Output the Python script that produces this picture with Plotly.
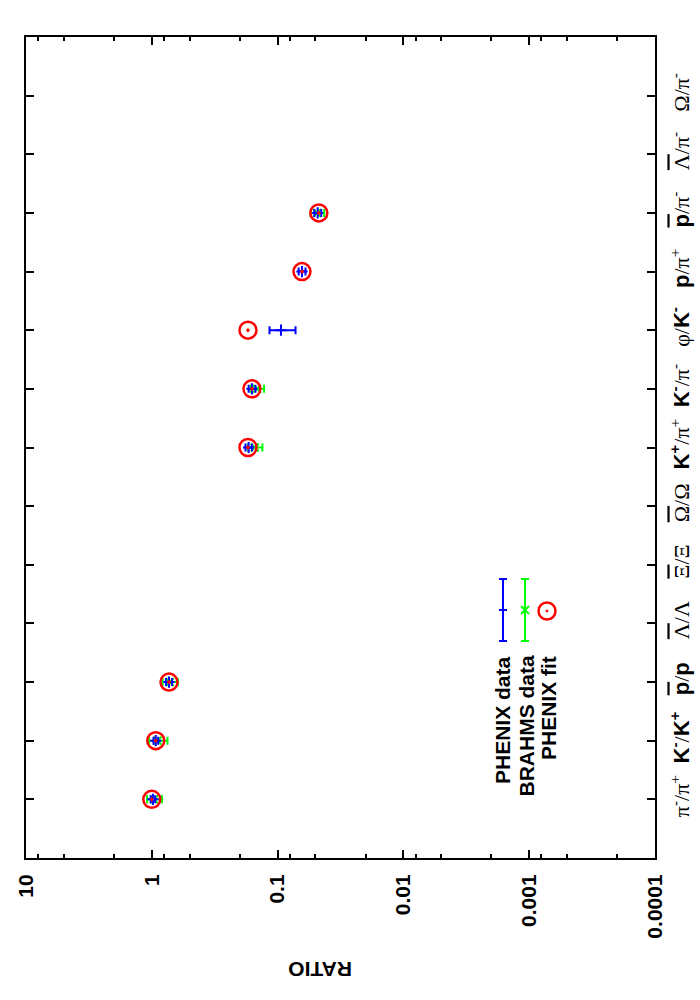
import plotly.graph_objects as go

def S(s):
    return f'<span style="font-family:Liberation Sans;font-weight:bold">{s}</span>'

def G(s):
    return f'<span style="font-family:Liberation Serif">{s}</span>'

def OL(s):
    return f'<span style="text-decoration:overline">{s}</span>'

categories = [
    G("π<sup>-</sup>/π<sup>+</sup>"),
    S("K<sup>-</sup>") + G("/") + S("K<sup>+</sup>"),
    S(OL("p")) + G("/") + S("p"),
    G(OL("Λ") + "/Λ"),
    G(OL("Ξ") + "/Ξ"),
    G(OL("Ω") + "/Ω"),
    S("K<sup>+</sup>") + G("/π<sup>+</sup>"),
    S("K<sup>-</sup>") + G("/π<sup>-</sup>"),
    G("φ/") + S("K<sup>-</sup>"),
    S("p") + G("/π<sup>+</sup>"),
    S(OL("p")) + G("/π<sup>-</sup>"),
    G(OL("Λ") + "/π<sup>-</sup>"),
    G("Ω/π<sup>-</sup>"),
]
cat_pos = list(range(1, 14))

fit_vals = [1.0, 0.93, 0.73, None, None, None, 0.172, 0.16, 0.172, 0.064, 0.047, None, None]
phenix_vals = [0.98, 0.93, 0.73, None, None, None, 0.17, 0.16, 0.094, 0.064, 0.048, None, None]
phenix_err = [0.04, 0.04, 0.04, None, None, None, 0.01, 0.01, 0.022, 0.004, 0.003, None, None]
brahms_vals = [0.96, 0.90, 0.72, None, None, None, 0.152, 0.146, None, None, 0.0486, None, None]
brahms_err = [0.13, 0.15, 0.10, None, None, None, 0.02, 0.018, None, None, 0.006, None, None]

tick_vals = [10, 1, 0.1, 0.01, 0.001, 0.0001]
tick_text = ["10", "1", "0.1", "0.01", "0.001", "0.0001"]
minor_vals = [m * d for d in [1, 0.1, 0.01, 0.001, 0.0001] for m in (8, 5, 2)]

def sel(vals, errs=None):
    xs, ys, es = [], [], []
    for i, v in enumerate(vals):
        if v is not None:
            xs.append(v)
            ys.append(cat_pos[i])
            if errs is not None:
                es.append(errs[i])
    return xs, ys, es

fig = go.Figure()

bx, by, be = sel(brahms_vals, brahms_err)
fig.add_trace(go.Scatter(
    x=bx, y=by, mode="markers",
    marker=dict(symbol="x-thin", size=8, line=dict(color="#00ff00", width=2), color="#00ff00"),
    error_x=dict(type="data", array=be, color="#00ff00", thickness=2, width=4),
    name="BRAHMS data"))

px_, py_, pe_ = sel(phenix_vals, phenix_err)
fig.add_trace(go.Scatter(
    x=px_, y=py_, mode="markers",
    marker=dict(symbol="cross-thin", size=8, line=dict(color="#0000ff", width=2), color="#0000ff"),
    error_x=dict(type="data", array=pe_, color="#0000ff", thickness=2, width=4),
    name="PHENIX data"))

fx, fy, _ = sel(fit_vals)
fig.add_trace(go.Scatter(
    x=fx, y=fy, mode="markers",
    marker=dict(symbol="circle-open-dot", size=17, color="#ff0000", line=dict(color="#ff0000", width=2.5)),
    name="PHENIX fit"))

# plot frame in pixels
L, R, T, B = 26, 655, 37, 858
W, H = R - L, B - T

def xp(px):
    return (px - L) / W

def yp(py):
    return (B - py) / H

shapes = []
def line(x0, y0, x1, y1, color, w=2):
    shapes.append(dict(type="line", xref="paper", yref="paper",
                       x0=xp(x0), y0=yp(y0), x1=xp(x1), y1=yp(y1),
                       line=dict(color=color, width=w)))

# legend samples (drawn rotated like the reference)
for cx, col in [(503, "#0000ff"), (525, "#00ff00")]:
    line(cx, 579, cx, 641, col)
    line(cx - 4, 579, cx + 4, 579, col)
    line(cx - 4, 641, cx + 4, 641, col)
line(499, 610, 507, 610, "#0000ff")
line(521, 606, 529, 614, "#00ff00")
line(521, 614, 529, 606, "#00ff00")
shapes.append(dict(type="circle", xref="paper", yref="paper",
                   x0=xp(547 - 8.5), x1=xp(547 + 8.5), y0=yp(611 + 8.5), y1=yp(611 - 8.5),
                   line=dict(color="#ff0000", width=2.5)))
shapes.append(dict(type="circle", xref="paper", yref="paper",
                   x0=xp(546), x1=xp(548), y0=yp(612), y1=yp(610),
                   line=dict(color="#ff0000", width=1), fillcolor="#ff0000"))

annotations = []
for cx, txt in [(502, "PHENIX data"), (526, "BRAHMS data"), (548, "PHENIX fit")]:
    annotations.append(dict(xref="paper", yref="paper", x=xp(cx), y=yp(654),
                            text=f"<b>{txt}</b>", textangle=-90, showarrow=False,
                            xanchor="center", yanchor="top",
                            font=dict(family="Liberation Sans", size=21, color="black")))
annotations.append(dict(xref="paper", yref="paper", x=xp(320), y=yp(970),
                        text="<b>RATIO</b>", textangle=180, showarrow=False,
                        xanchor="center", yanchor="middle",
                        font=dict(family="Liberation Sans", size=21, color="black")))

fig.update_layout(
    width=700, height=1000,
    margin=dict(l=L, r=700 - R, t=T, b=1000 - B, autoexpand=False),
    plot_bgcolor="white", paper_bgcolor="white",
    showlegend=False,
    shapes=shapes, annotations=annotations,
    xaxis=dict(type="log", range=[1, -4], tickmode="array", tickvals=tick_vals, ticktext=tick_text,
               tickangle=-90, ticks="inside", ticklen=8, tickwidth=1.5, tickcolor="black",
               showline=True, linecolor="black", linewidth=2, mirror="ticks",
               showgrid=False, zeroline=False, automargin=False,
               tickfont=dict(family="Liberation Sans", size=21, color="black", weight="bold"),
               ticklabelstandoff=6,
               minor=dict(tickvals=minor_vals, ticks="inside", ticklen=4, tickwidth=1.5,
                          tickcolor="black", showgrid=False)),
    yaxis=dict(range=[0, 14], tickmode="array", tickvals=cat_pos, ticktext=categories,
               side="right", tickangle=-90, ticks="inside", ticklen=8, tickwidth=1.5, tickcolor="black",
               showline=True, linecolor="black", linewidth=2, mirror="ticks",
               showgrid=False, zeroline=False, ticklabelstandoff=6, automargin=False,
               tickfont=dict(family="Liberation Serif", size=22, color="black")),
)

fig.write_html("out.html", config={"displayModeBar": False},
               post_script="document.body.style.margin='0';document.body.style.overflow='hidden';")
